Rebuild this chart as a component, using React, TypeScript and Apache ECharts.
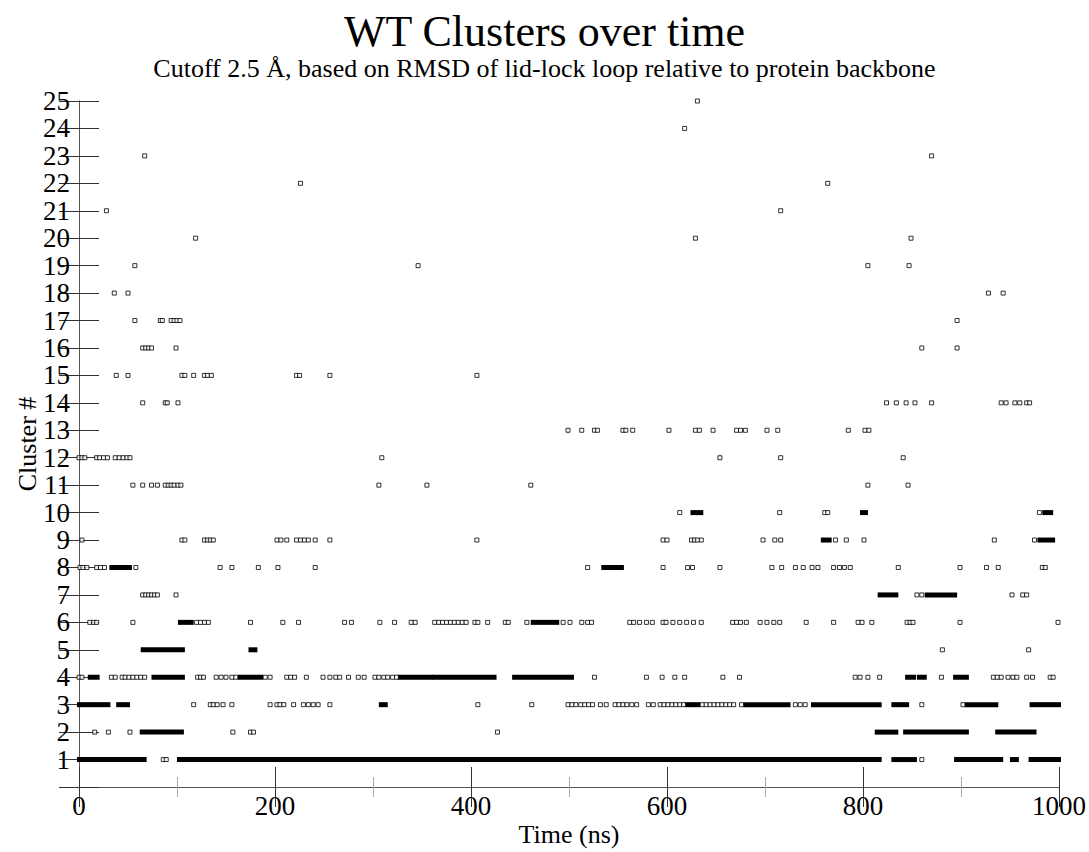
import React, { useEffect, useRef } from "react";
import * as echarts from "echarts";

// ---- Data: time (ns) of each frame assigned to a cluster ----
// Isolated frames (open squares)
const c01 = [86, 89, 860];
const c02 = [16, 30, 52, 157, 175, 178, 427];
const c03 = [117, 134, 137, 141, 147, 156, 195, 202, 205, 209, 219, 229, 234, 239, 244, 256, 407, 462, 499, 503, 507, 512, 516, 520, 524, 532, 538, 547, 551, 555, 559, 564, 569, 581, 586, 593, 597, 601, 605, 609, 613, 617, 636, 640, 644, 648, 652, 656, 660, 664, 668, 676, 731, 736, 741, 860, 902];
const c04 = [0, 3, 33, 37, 44, 47, 51, 55, 59, 63, 67, 121, 124, 127, 140, 145, 150, 156, 160, 190, 195, 212, 216, 220, 232, 249, 256, 262, 266, 275, 285, 291, 302, 306, 311, 315, 320, 324, 526, 579, 595, 608, 618, 657, 674, 792, 797, 805, 817, 880, 933, 937, 941, 948, 953, 957, 967, 973, 991, 994];
const c05 = [881, 969];
const c06 = [11, 15, 18, 55, 120, 124, 128, 132, 175, 208, 224, 271, 278, 307, 322, 339, 343, 363, 367, 371, 375, 379, 383, 387, 391, 395, 404, 407, 417, 435, 438, 457, 494, 501, 513, 519, 523, 562, 566, 572, 579, 585, 596, 599, 606, 613, 620, 627, 635, 667, 671, 675, 681, 695, 702, 709, 715, 742, 770, 795, 799, 809, 845, 848, 851, 899, 999];
const c07 = [65, 68, 71, 74, 77, 80, 99, 855, 860, 952, 963, 967];
const c08 = [1, 4, 8, 18, 22, 26, 58, 144, 156, 183, 203, 241, 519, 596, 621, 626, 654, 707, 717, 731, 739, 748, 754, 770, 776, 781, 787, 836, 899, 926, 938, 983, 986];
const c09 = [3, 105, 108, 128, 131, 134, 137, 202, 206, 212, 222, 226, 230, 234, 241, 256, 406, 596, 600, 625, 628, 631, 635, 698, 710, 716, 772, 783, 801, 934, 975];
const c10 = [613, 715, 761, 764, 980];
const c11 = [55, 65, 74, 80, 88, 91, 94, 97, 101, 104, 306, 355, 461, 805, 846];
const c12 = [0, 3, 6, 18, 21, 25, 29, 37, 41, 45, 49, 52, 309, 654, 716, 841];
const c13 = [499, 513, 526, 529, 555, 558, 565, 602, 629, 633, 647, 671, 675, 680, 702, 713, 785, 802, 806];
const c14 = [65, 88, 90, 101, 824, 834, 844, 853, 870, 941, 946, 955, 960, 967, 970];
const c15 = [38, 50, 105, 108, 117, 128, 131, 135, 222, 225, 256, 406];
const c16 = [65, 68, 71, 74, 99, 860, 896];
const c17 = [57, 83, 85, 94, 97, 100, 103, 896];
const c18 = [36, 50, 928, 943];
const c19 = [57, 346, 805, 847];
const c20 = [119, 629, 849];
const c21 = [28, 716];
const c22 = [226, 764];
const c23 = [67, 870];
const c24 = [618];
const c25 = [631];

// Dense stretches of consecutive frames [start, end] (solid bars)
const r01 = [[0, 67], [102, 817], [831, 853], [895, 941], [952, 957], [971, 1000]];
const r02 = [[64, 105], [814, 834], [843, 906], [937, 975]];
const r03 = [[0, 13], [16, 30], [40, 50], [308, 313], [620, 632], [680, 724], [749, 817], [831, 845], [906, 936], [972, 1000]];
const r04 = [[11, 19], [76, 106], [164, 186], [327, 360], [363, 424], [444, 503], [845, 852], [857, 863], [894, 906]];
const r05 = [[65, 106], [175, 180]];
const r06 = [[103, 115], [463, 488]];
const r07 = [[817, 834], [865, 894]];
const r08 = [[33, 52], [535, 554]];
const r09 = [[759, 766], [980, 994]];
const r10 = [[626, 635], [799, 803], [985, 992]];

const pointLists = [c01, c02, c03, c04, c05, c06, c07, c08, c09, c10, c11, c12, c13, c14, c15, c16, c17, c18, c19, c20, c21, c22, c23, c24, c25];
const runLists = [r01, r02, r03, r04, r05, r06, r07, r08, r09, r10];

const TITLE = "WT Clusters over time";
const SUBTITLE = "Cutoff 2.5 Å, based on RMSD of lid-lock loop relative to protein backbone";
const X_NAME = "Time (ns)";
const Y_NAME = "Cluster #";

const FONT = "Liberation Serif";

export default function App() {
  const ref = useRef<HTMLDivElement>(null);

  useEffect(() => {
    if (!ref.current) return;
    const chart = echarts.init(ref.current, undefined, { renderer: "svg", width: 1089, height: 852 });

    const scatterData: number[][] = [];
    pointLists.forEach((list, i) => list.forEach((t) => scatterData.push([t, i + 1])));
    const runData: number[][] = [];
    runLists.forEach((list, i) => list.forEach((r) => runData.push([r[0], r[1], i + 1])));

    const axisLine = { show: true, lineStyle: { color: "#555", width: 1 } };
    const axisTick = { show: true, inside: true, length: 20, lineStyle: { color: "#333", width: 1 } };
    const minorTick = { show: true, splitNumber: 2, length: 10, lineStyle: { color: "#aaa", width: 1 } };
    const labelStyle = { fontFamily: FONT, fontSize: 27, color: "#000" };

    chart.setOption({
      animation: false,
      backgroundColor: "#fff",
      title: [
        {
          text: TITLE,
          left: "center",
          top: 4,
          textStyle: { fontFamily: FONT, fontSize: 44, lineHeight: 44, fontWeight: "normal", color: "#000" },
        },
        {
          text: SUBTITLE,
          left: "center",
          top: 50,
          textStyle: { fontFamily: FONT, fontSize: 26, lineHeight: 26, fontWeight: "normal", color: "#000" },
        },
      ],
      grid: { left: 79, top: 101, width: 980, height: 687, containLabel: false },
      xAxis: [
        {
          type: "value",
          position: "bottom",
          min: 0,
          max: 1000,
          interval: 200,
          axisLine,
          axisTick,
          minorTick,
          splitLine: { show: false },
          axisLabel: { ...labelStyle, margin: 5, formatter: (v: number) => String(v) },
          name: X_NAME,
          nameLocation: "middle",
          nameGap: 34,
          nameMoveOverlap: false,
          nameTextStyle: { ...labelStyle, fontSize: 26 },
        },
        {
          type: "value",
          position: "top",
          min: 0,
          max: 1000,
          interval: 200,
          axisLine,
          axisTick,
          minorTick,
          splitLine: { show: false },
          axisLabel: { show: false },
        },
      ],
      yAxis: [
        {
          type: "value",
          position: "left",
          min: 0,
          max: 25,
          interval: 1,
          axisLine,
          axisTick,
          splitLine: { show: false },
          axisLabel: { ...labelStyle, margin: 9, formatter: (v: number) => (v === 0 ? "" : String(v)) },
          name: Y_NAME,
          nameLocation: "middle",
          nameGap: 39,
          nameMoveOverlap: false,
          nameTextStyle: { ...labelStyle, fontSize: 26 },
        },
        {
          type: "value",
          position: "right",
          min: 0,
          max: 25,
          interval: 1,
          axisLine,
          axisTick,
          splitLine: { show: false },
          axisLabel: { show: false },
        },
      ],
      series: [
        {
          type: "custom",
          name: "runs",
          xAxisIndex: 0,
          yAxisIndex: 0,
          clip: false,
          encode: { x: [0, 1], y: 2 },
          data: runData,
          renderItem: (params: any, api: any) => {
            const s = api.coord([api.value(0), api.value(2)]);
            const e = api.coord([api.value(1), api.value(2)]);
            const h = 5;
            return {
              type: "rect",
              shape: { x: s[0] - 2, y: s[1] - h / 2, width: e[0] - s[0] + 4, height: h },
              style: { fill: "#000" },
            };
          },
        },
        {
          type: "scatter",
          name: "frames",
          xAxisIndex: 0,
          yAxisIndex: 0,
          clip: false,
          symbol: "rect",
          symbolSize: [4, 4],
          itemStyle: { color: "#fff", borderColor: "#000", borderWidth: 1 },
          data: scatterData,
        },
      ],
    });

    return () => chart.dispose();
  }, []);

  return (
    <div
      ref={ref}
      style={{ position: "fixed", left: 0, top: 0, width: 1089, height: 852, background: "#fff" }}
    />
  );
}
